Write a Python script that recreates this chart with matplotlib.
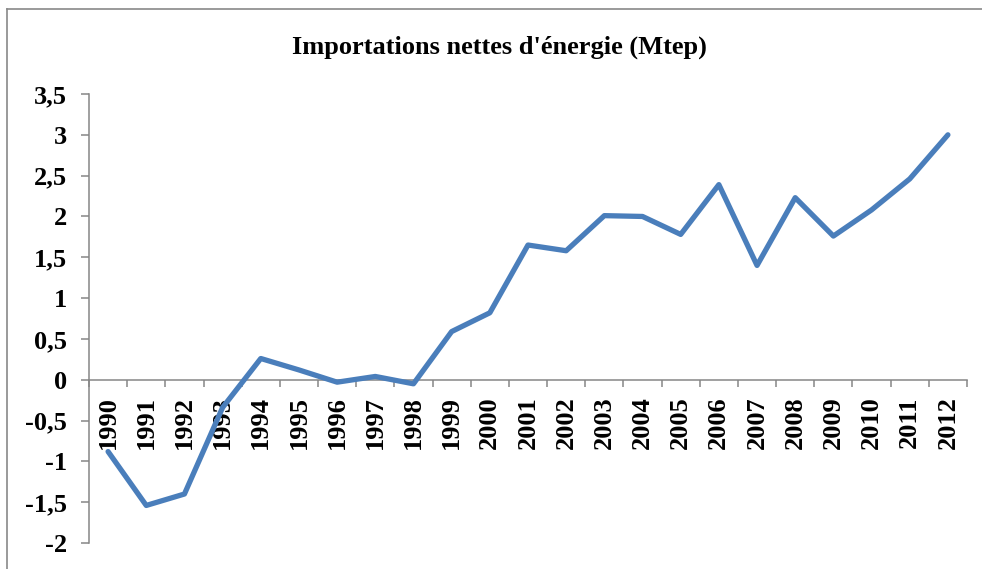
import matplotlib
matplotlib.use("Agg")
import matplotlib.pyplot as plt
from matplotlib.lines import Line2D
import numpy as np

years = [str(y) for y in range(1990, 2013)]
values = [-0.88, -1.54, -1.40, -0.34, 0.26, 0.12, -0.03, 0.04, -0.05, 0.59,
          0.82, 1.65, 1.58, 2.01, 2.00, 1.78, 2.39, 1.40, 2.23, 1.76,
          2.08, 2.46, 3.00]
yticks = [-2, -1.5, -1, -0.5, 0, 0.5, 1, 1.5, 2, 2.5, 3, 3.5]
ytick_labels = ["-2", "-1,5", "-1", "-0,5", "0", "0,5", "1", "1,5", "2", "2,5", "3", "3,5"]
title = "Importations nettes d'énergie (Mtep)"

W, H = 982, 569
fig = plt.figure(figsize=(W / 100, H / 100), dpi=100)
plt.rcParams['font.family'] = ['Liberation Serif', 'DejaVu Serif']

ax = fig.add_axes([89 / W, 1 - 543 / H, (967 - 89) / W, (543 - 94) / H])
x = np.arange(len(years))
ax.plot(x, values, color="#4A7EBB", lw=3.8, solid_capstyle='round', solid_joinstyle='round', zorder=3)

ax.set_xlim(-0.5, len(years) - 0.5)
ax.set_ylim(-2, 3.5)

gray = "#868686"
for s in ['top', 'right']:
    ax.spines[s].set_visible(False)
ax.spines['left'].set_color(gray)
ax.spines['left'].set_linewidth(1.1)
ax.spines['bottom'].set_color(gray)
ax.spines['bottom'].set_linewidth(1.1)
ax.spines['bottom'].set_position(('data', 0))

ax.set_yticks(yticks)
ax.set_yticklabels(ytick_labels, fontsize=19, fontweight='bold', family='Liberation Serif')
ax.tick_params(axis='y', length=6, width=1.1, color=gray, pad=10)

ax.set_xticks(np.arange(len(years) + 1) - 0.5)
ax.set_xticklabels([])
ax.tick_params(axis='x', which='major', length=5, width=1.1, color=gray, direction='out')
ax.set_xticks(x, minor=True)
ax.set_xticklabels(years, minor=True, rotation=90, fontsize=19, fontweight='bold',
                   family='Liberation Serif', va='top', ha='center')
ax.tick_params(axis='x', which='minor', length=0, pad=12)

fig.text(499 / W, 1 - 47 / H, title, ha='center', va='center', fontsize=19,
         fontweight='bold', family='Liberation Serif')

fig.add_artist(Line2D([7 / W, 1.0], [1 - 9 / H, 1 - 9 / H], transform=fig.transFigure, color="#898989", lw=1.2))
fig.add_artist(Line2D([7 / W, 7 / W], [1 - 9 / H, 0.0], transform=fig.transFigure, color="#898989", lw=1.2))

fig.savefig("out.png", dpi=100)
